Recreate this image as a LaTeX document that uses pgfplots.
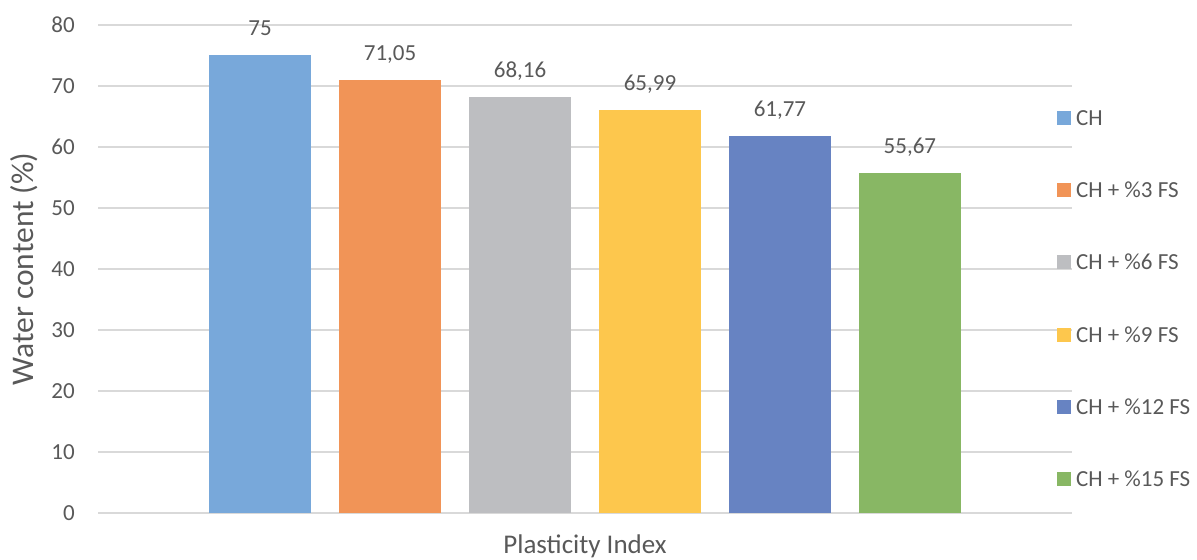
\documentclass[border=0pt]{standalone}
\usepackage{fontspec}
\setmainfont{Carlito}
\usepackage{pgfplots}
\pgfplotsset{compat=1.18}
\definecolor{cA}{HTML}{78A8DA}
\definecolor{cB}{HTML}{F19457}
\definecolor{cC}{HTML}{BDBEC1}
\definecolor{cD}{HTML}{FDC74D}
\definecolor{cE}{HTML}{6783C2}
\definecolor{cF}{HTML}{88B764}
\definecolor{gridc}{HTML}{D9D9D9}
\definecolor{textc}{HTML}{595959}
\pgfplotsset{mybar/.style={ybar, bar width=102.7pt, bar shift=0pt, draw=none,
  legend image code/.code={\fill[##1] (0pt,-7pt) rectangle (14pt,7pt);}}}
\begin{document}
\begin{tikzpicture}
\begin{axis}[name=ax, scale only axis, width=973.4pt, height=488pt,
  xmin=-1.245, xmax=6.245, ymin=0, ymax=80,
  ytick={0,10,...,80}, xtick=\empty,
  axis line style={draw=none}, major tick length=0pt,
  ymajorgrids, grid style={color=gridc, line width=1.2pt},
  tick label style={font=\fontsize{23}{28}\selectfont, text=textc},
  yticklabel style={anchor=east, inner sep=0pt, xshift=-23.3pt},
  /pgf/number format/assume math mode=true,
  /pgf/number format/use comma, /pgf/number format/fixed,
  /pgf/number format/precision=2, /pgf/number format/1000 sep={},
  nodes near coords, point meta=y,
  every node near coord/.append style={anchor=south, inner sep=0pt, text depth=0pt,
    yshift=19.3pt, font=\fontsize{23}{28}\selectfont, text=textc},
  xlabel={Plasticity Index}, ylabel={Water content (\%)},
  every axis x label/.style={at={(axis description cs:0.5,-0.082)}, anchor=base,
    font=\fontsize{27}{33}\selectfont, text=textc},
  every axis y label/.style={at={(axis description cs:-0.0668,0.5)}, rotate=90, anchor=base,
    font=\fontsize{31.5}{38}\selectfont, text=textc},
  legend cell align=left,
  legend style={at={(axis description cs:0.9849,0.825)}, anchor=north west,
    draw=none, fill=none, inner sep=0pt, outer sep=0pt,
    row sep=57.2pt, column sep=5pt,
    font=\fontsize{23}{28}\selectfont, text=textc,
    nodes={inner sep=0pt, text height=15pt, text depth=0pt}},
]
\addplot[mybar, fill=cA] coordinates {(0,75)};
\addlegendentry{CH}
\addplot[mybar, fill=cB] coordinates {(1,71.05)};
\addlegendentry{CH + \%3 FS}
\addplot[mybar, fill=cC] coordinates {(2,68.16)};
\addlegendentry{CH + \%6 FS}
\addplot[mybar, fill=cD] coordinates {(3,65.99)};
\addlegendentry{CH + \%9 FS}
\addplot[mybar, fill=cE] coordinates {(4,61.77)};
\addlegendentry{CH + \%12 FS}
\addplot[mybar, fill=cF] coordinates {(5,55.67)};
\addlegendentry{CH + \%15 FS}
\end{axis}
\pgfresetboundingbox
\useasboundingbox ([xshift=-98.3pt,yshift=-47pt]ax.south west) rectangle ([xshift=125.3pt,yshift=25pt]ax.north east);
\end{tikzpicture}
\end{document}
